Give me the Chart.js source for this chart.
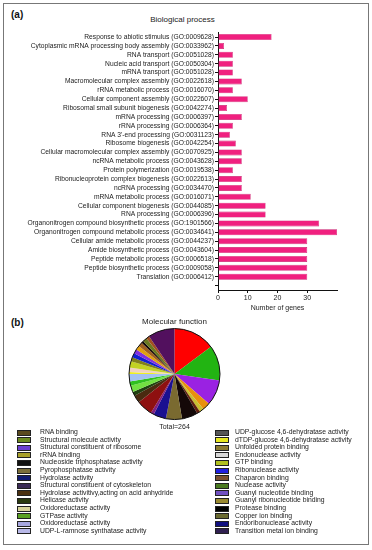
<!DOCTYPE html>
<html>
<head>
<meta charset="utf-8">
<script src="https://cdn.jsdelivr.net/npm/chart.js@4.4.1/dist/chart.umd.min.js"></script>
<style>
  body { margin: 0; background: #fff; font-family: Arial, 'Liberation Sans', sans-serif; }
  #page { position: relative; width: 372px; height: 550px; overflow: hidden; }
  #frame { position: absolute; left: 3px; top: 3px; width: 364px; height: 540px; border: 1.5px solid #777; }
  .panel { position: absolute; font-weight: bold; font-size: 10px; color: #111; }
  .titulo { position: absolute; font-size: 8px; color: #222; white-space: nowrap; transform: translateX(-50%); }
  #barWrap { position: absolute; left: 0; top: 0; width: 372px; height: 314px; }
  #pieWrap { position: absolute; left: 0; top: 310px; width: 372px; height: 122px; }
  #legend { position: absolute; left: 0; top: 428px; width: 372px; }
  .item { position: absolute; height: 8px; font-size: 6.8px; line-height: 8px; color: #222; white-space: nowrap; }
  .sw { position: absolute; left: 0; top: 1.5px; width: 12px; height: 4px; border: 1px solid #222; }
  .txt { position: absolute; }
</style>
</head>
<body>
<div id="page">
  <div id="frame"></div>
  <div class="panel" style="left:11px; top:9px;">(a)</div>
  <div class="panel" style="left:11px; top:317px;">(b)</div>
  <div class="titulo" style="left:182.5px; top:15px;">Biological process</div>
  <div id="barWrap"><canvas id="barChart"></canvas></div>
  <div id="pieWrap"><canvas id="pieChart"></canvas></div>
  <div id="legend"></div>
</div>
<script>
const BAR_CHART = document.getElementById('barChart')
const PIE_CHART = document.getElementById('pieChart')

// Biological process
const procesos = [
  'Response to abiotic stimulus (GO:0009628)',
  'Cytoplasmic mRNA processing body assembly (GO:0033962)',
  'RNA transport (GO:0051028)',
  'Nucleic acid transport (GO:0050304)',
  'mRNA transport (GO:0051028)',
  'Macromolecular complex assembly (GO:0022618)',
  'rRNA metabolic process (GO:0016070)',
  'Cellular component assembly (GO:0022607)',
  'Ribosomal small subunit biogenesis (GO:0042274)',
  'mRNA processing (GO:0006397)',
  'rRNA processing (GO:0006364)',
  'RNA 3\'-end processing (GO:0031123)',
  'Ribosome biogenesis (GO:0042254)',
  'Cellular macromolecular complex assembly (GO:0070925)',
  'ncRNA metabolic process (GO:0043628)',
  'Protein polymerization (GO:0019538)',
  'Ribonucleoprotein complex biogenesis (GO:0022613)',
  'ncRNA processing (GO:0034470)',
  'mRNA metabolic process (GO:0016071)',
  'Cellular component biogenesis (GO:0044085)',
  'RNA processing (GO:0006396)',
  'Organonitrogen compound biosynthetic process (GO:1901566)',
  'Organonitrogen compound metabolic process (GO:0034641)',
  'Cellular amide metabolic process (GO:0044237)',
  'Amide biosynthetic process (GO:0043604)',
  'Peptide metabolic process (GO:0006518)',
  'Peptide biosynthetic process (GO:0009058)',
  'Translation (GO:0006412)',
  ''
]
const genes = [18, 2, 5, 5, 5, 8, 5, 10, 3, 8, 5, 4, 6, 8, 8, 5, 8, 8, 11, 16, 16, 34, 40, 30, 30, 30, 30, 30, null]
const ticksX = [0, 10, 20, 30]

// Molecular function
const funciones = [
  'RNA binding',
  'Structural molecule activity',
  'Structural constituent of ribosome',
  'rRNA binding',
  'Nucleoside triphosphatase activity',
  'Pyrophosphatase activity',
  'Hydrolase activity',
  'Structural constituent of cytoskeleton',
  'Hydrolase activitivy,acting on acid anhydride',
  'Helicase activity',
  'Oxidoreductase activity',
  'GTPase activity',
  'Oxidoreductase activity',
  'UDP-L-ramnose synthatase activity',
  'UDP-glucose 4,6-dehydratase activity',
  'dTDP-glucose 4,6-dehydratase activity',
  'Unfolded protein binding',
  'Endonuclease activity',
  'GTP binding',
  'Ribonuclease activity',
  'Chaparon binding',
  'Nuclease activity',
  'Guanyl nucleotide binding',
  'Guanyl ribonucleotide binding',
  'Protease binding',
  'Copper ion binding',
  'Endoribonuclease activity',
  'Transition metal ion binding'
]
const conteos = [39, 33, 24, 7, 4, 3, 15, 15, 12, 3, 15, 7, 4, 6, 4, 7, 2, 4, 6, 4, 4, 4, 4, 4, 2, 4, 3, 25]
const total = 264

const coloresPie = [
  '#ff0000', '#22b412', '#9a22e2', '#e8900e', '#c8c030', '#602010', '#140808',
  '#7a6a30', '#1a1090', '#802080', '#8e1010', '#4a2a10', '#204010', '#72e042',
  '#30c020', '#a4c2f2', '#f0f020', '#f0d2c2', '#c2d222', '#80801a', '#1020d0',
  '#8030e0', '#e0a010', '#a06020', '#140808', '#6a7a20', '#a05020', '#52105e'
]
const coloresLeyenda = [
  '#5a4a1e', '#6b8a1f', '#6a3fd0', '#a8a02a', '#111111', '#7a6e3a', '#101a70',
  '#3a2a55', '#4a3010', '#2a3a10', '#d8d49a', '#5aa020', '#a8a8e0', '#b8b8e8',
  '#555555', '#e8e820', '#8a7a30', '#d8d8d8', '#b0c020', '#2020e0', '#7a5030',
  '#4a7a20', '#7050c0', '#9a8a30', '#000000', '#6a6a30', '#101080', '#302050'
]

const fuente = "Arial, 'Liberation Sans', sans-serif"
Chart.defaults.font.family = fuente
Chart.defaults.color = '#222'

const barras = new Chart(BAR_CHART, {
  type: 'bar',
  data: {
    labels: procesos,
    datasets: [
      {
        label: 'Number of genes',
        data: genes,
        backgroundColor: '#f0207f',
        borderColor: '#c8186a',
        borderWidth: 0.6,
        barPercentage: 0.68,
        categoryPercentage: 1
      }
    ]
  },
  options: {
    indexAxis: 'y',
    responsive: true,
    maintainAspectRatio: false,
    animation: false,
    layout: { padding: { left: 0, right: 35, top: 32.6, bottom: 2 } },
    plugins: {
      legend: { display: false },
      tooltip: { enabled: false },
      title: { display: false }
    },
    scales: {
      x: {
        min: 0,
        max: 40,
        afterBuildTicks: scale => {
          scale.ticks = ticksX.concat([40]).map(v => ({ value: v }))
        },
        afterFit: scale => { scale.height = 22 },
        border: { color: '#111', width: 1 },
        grid: {
          drawOnChartArea: false,
          tickLength: 3,
          color: ctx => (ctx.tick && ctx.tick.value === 40 ? 'rgba(0,0,0,0)' : '#111')
        },
        ticks: {
          padding: 1,
          font: { size: 7 },
          color: '#222',
          callback: v => (ticksX.includes(v) ? v : '')
        },
        title: {
          display: true,
          text: 'Number of genes',
          color: '#222',
          font: { size: 7 },
          padding: { top: 1, bottom: 0 }
        }
      },
      y: {
        afterFit: scale => { scale.width = 218 },
        border: { color: '#111', width: 1 },
        grid: {
          offset: false,
          drawOnChartArea: false,
          tickLength: 3,
          color: '#111'
        },
        ticks: {
          autoSkip: false,
          padding: 1,
          font: { size: 6.7 },
          color: '#222'
        }
      }
    }
  }
})

// contorno negro del pastel
const contorno = {
  id: 'contorno',
  afterDatasetsDraw (chart) {
    const arc = chart.getDatasetMeta(0).data[0]
    if (!arc) return
    const ctx = chart.ctx
    ctx.save()
    ctx.beginPath()
    ctx.arc(arc.x, arc.y, arc.outerRadius, 0, Math.PI * 2)
    ctx.lineWidth = 1
    ctx.strokeStyle = '#111'
    ctx.stroke()
    ctx.restore()
  }
}

const pastel = new Chart(PIE_CHART, {
  type: 'pie',
  data: {
    labels: funciones,
    datasets: [
      {
        data: conteos,
        backgroundColor: coloresPie,
        borderWidth: 0
      }
    ]
  },
  options: {
    responsive: true,
    maintainAspectRatio: false,
    animation: false,
    layout: { padding: { left: 129, right: 152, top: 0, bottom: 0 } },
    plugins: {
      legend: { display: false },
      tooltip: { enabled: false },
      title: {
        display: true,
        text: 'Molecular function',
        color: '#222',
        font: { size: 8, weight: 'normal' },
        padding: { top: 7, bottom: 0.4 }
      },
      subtitle: {
        display: true,
        position: 'bottom',
        text: 'Total=' + total,
        color: '#222',
        font: { size: 7 },
        padding: { top: 1.5, bottom: 1 }
      }
    }
  },
  plugins: [contorno]
})

// leyenda en dos columnas
const leyenda = document.getElementById('legend')
funciones.forEach((nombre, i) => {
  const col = i < 14 ? 0 : 1
  const fila = i % 14
  const item = document.createElement('div')
  item.className = 'item'
  item.style.left = (col === 0 ? 17 : 215) + 'px'
  item.style.top = (fila * 7.6) + 'px'
  const sw = document.createElement('div')
  sw.className = 'sw'
  sw.style.background = coloresLeyenda[i]
  const txt = document.createElement('div')
  txt.className = 'txt'
  txt.style.left = (col === 0 ? 23 : 20) + 'px'
  txt.textContent = nombre
  item.appendChild(sw)
  item.appendChild(txt)
  leyenda.appendChild(item)
})
</script>
</body>
</html>
